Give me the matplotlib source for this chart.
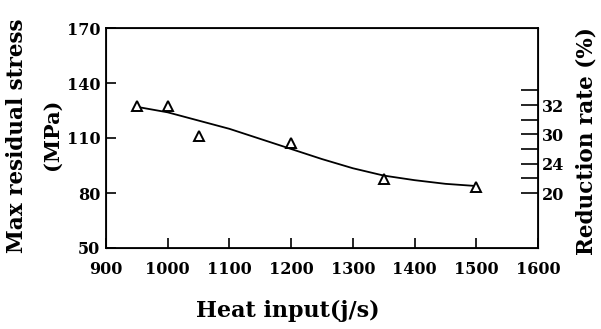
import matplotlib
matplotlib.use("Agg")
import matplotlib.pyplot as plt

# Data
heat_input = [950, 1000, 1050, 1200, 1350, 1500]
max_stress = [127.5, 127.5, 111, 107.5, 87.5, 83.5]

fit_x = [950, 1000, 1050, 1100, 1150, 1200, 1250, 1300, 1350, 1400, 1450, 1500]
fit_y = [127, 124, 119.5, 115, 109.5, 104, 98.5, 93.5, 89.5, 87, 85, 83.8]

x_ticks = [900, 1000, 1100, 1200, 1300, 1400, 1500, 1600]
y_ticks = [50, 80, 110, 140, 170]

rr_tick_pos = [80, 88, 96, 104, 112, 120, 128, 136]
rr_labels = ["20", "", "24", "", "30", "", "32", ""]

plt.rcParams['font.family'] = ['DejaVu Serif']
plt.rcParams['font.weight'] = 'bold'
plt.rcParams['axes.labelweight'] = 'bold'

fig = plt.figure(figsize=(6.01, 3.29), dpi=100)
ax = fig.add_axes([106/601, 1-248/329, (538-106)/601, (248-28)/329])

ax.plot(fit_x, fit_y, color='black', lw=1.3)
ax.plot(heat_input, max_stress, linestyle='none', marker='^', markersize=7,
        markerfacecolor='white', markeredgecolor='black', markeredgewidth=1.4)

ax.set_xlim(900, 1600)
ax.set_ylim(50, 170)
ax.set_xticks(x_ticks)
ax.set_yticks(y_ticks)
ax.tick_params(axis='both', direction='in', length=7, width=1.2, labelsize=11.5)
ax.tick_params(axis='x', pad=9)
ax.tick_params(axis='y', pad=4)
for s in ax.spines.values():
    s.set_linewidth(1.3)

ax2 = ax.twinx()
ax2.set_ylim(50, 170)
ax2.set_yticks(rr_tick_pos)
ax2.set_yticklabels(rr_labels)
ax2.tick_params(axis='y', direction='in', length=12, width=1.2, labelsize=11.5, pad=3)

fig.text(17/601, 1-136/329, "Max residual stress", rotation=90, fontsize=15.5,
         fontweight='bold', ha='center', va='center')
fig.text(52/601, 1-134/329, "(MPa)", rotation=90, fontsize=15,
         fontweight='bold', ha='center', va='center')
fig.text(288/601, 1-311/329, "Heat input(j/s)", fontsize=16,
         fontweight='bold', ha='center', va='center')
fig.text(587/601, 1-141/329, "Reduction rate (%)", rotation=90, fontsize=15.5,
         fontweight='bold', ha='center', va='center')

fig.savefig("out.png", dpi=100)
